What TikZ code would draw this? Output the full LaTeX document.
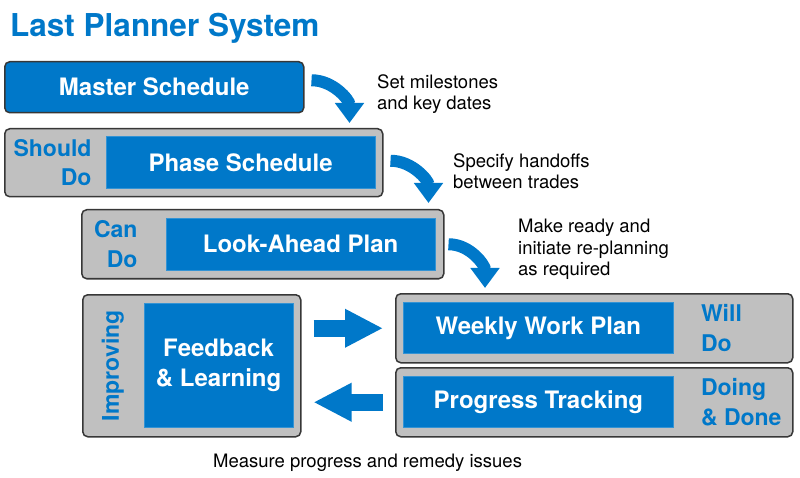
\documentclass[tikz,border=0pt]{standalone}
\usepackage{fontspec}
\setmainfont{TeX Gyre Heros}
\usetikzlibrary{positioning,arrows.meta,calc}
\definecolor{lpblue}{RGB}{0,120,201}
\definecolor{lpgray}{RGB}{192,192,192}
\definecolor{lpedge}{RGB}{55,55,55}
\tikzset{
  frame/.style={draw=lpedge, line width=1.5pt, fill=lpgray, rounded corners=5pt, inner sep=0pt, anchor=north west},
  stage/.style={fill=lpblue, draw=lpblue!80!white, line width=0.8pt, text=white, align=center, inner sep=0pt, font=\fontsize{24}{30}\selectfont\bfseries},
  tag/.style={text=lpblue, inner sep=0pt, font=\fontsize{23}{29.5}\selectfont\bfseries},
  note/.style={anchor=north west, inner sep=0pt, align=left, font=\fontsize{18.5}{21.5}\selectfont},
  bendarr/.style={draw=lpblue, line width=12pt, -{Triangle[length=20pt, width=28pt]}},
  blockarr/.style={draw=lpblue, line width=17pt, -{Triangle[length=38pt, width=36pt]}},
}
\begin{document}
\begin{tikzpicture}[x=1pt, y=-1pt]
  \useasboundingbox (0,0) rectangle (800,478);
  \node[anchor=base west, inner sep=0pt, text=lpblue, font=\fontsize{31.5}{37}\selectfont\bfseries] (title) at (10,37) {Last Planner System};

  \node[frame, fill=lpblue, minimum width=299pt, minimum height=51pt, text=white, font=\fontsize{24}{30}\selectfont\bfseries] (master) at (4,61) {Master Schedule};

  % should do
  \node[frame, minimum width=378pt, minimum height=68pt] (phaseframe) at (4,128) {};
  \node[stage, minimum width=269pt, minimum height=52pt, anchor=east] (phase) at ([xshift=-8pt]phaseframe.east) {Phase Schedule};
  \node[tag, align=right, anchor=east] (should) at ([xshift=-14pt]phase.west) {Should\\Do};

  % can do
  \node[frame, minimum width=362pt, minimum height=69pt] (lookframe) at (81,209) {};
  \node[stage, minimum width=269pt, minimum height=52pt, anchor=east] (look) at ([xshift=-9pt]lookframe.east) {Look-Ahead Plan};
  \node[tag, align=right, anchor=east] (can) at ([xshift=-28pt]look.west) {Can\\Do};

  % improving
  \node[frame, minimum width=218pt, minimum height=142pt] (learnframe) at (82,294) {};
  \node[stage, minimum width=149pt, minimum height=124pt, anchor=east] (learn) at ([xshift=-8pt]learnframe.east) {Feedback\\\& Learning};
  \node[tag, rotate=90] (improving) at ($(learnframe.west)!0.5!(learn.west)$) {Improving};

  % will do
  \node[frame, minimum width=397pt, minimum height=69pt] (weekframe) at (395,293) {};
  \node[stage, minimum width=270pt, minimum height=51pt, anchor=west] (week) at ([xshift=8pt]weekframe.west) {Weekly Work Plan};
  \node[tag, align=left, anchor=west] (will) at ([xshift=27pt]week.east) {Will\\Do};

  % doing and done
  \node[frame, minimum width=397pt, minimum height=69pt] (trackframe) at (395,367) {};
  \node[stage, minimum width=270pt, minimum height=51pt, anchor=west] (track) at ([xshift=8pt]trackframe.west) {Progress Tracking};
  \node[tag, align=left, anchor=west] (done) at ([xshift=27pt]track.east) {Doing\\\& Done};

  \node[note] (milestones) at (377,74) {Set milestones\\and key dates};
  \node[note] (handoffs) at (453,153) {Specify handoffs\\between trades};
  \node[note] (ready) at (518,219) {Make ready and\\initiate re-planning\\as required};
  \node[note, anchor=base west] (measure) at (213,467) {Measure progress and remedy issues};

  \coordinate (a1) at ([xshift=7pt, yshift=7pt]master.east);
  \coordinate (b1) at ([xshift=-34pt, yshift=5pt]phaseframe.north east);
  \coordinate (a2) at ([xshift=7pt, yshift=2pt]phaseframe.east);
  \coordinate (b2) at ([xshift=-16pt, yshift=6pt]lookframe.north east);
  \coordinate (a3) at ([xshift=4pt]lookframe.east);
  \coordinate (b3) at ([xshift=90pt, yshift=5pt]weekframe.north west);
  \draw[bendarr] (a1) to[out=0, in=90] (b1);
  \draw[bendarr] (a2) to[out=0, in=90] (b2);
  \draw[bendarr] (a3) to[out=0, in=90] (b3);

  \draw[blockarr] ([xshift=12pt]weekframe.west -| learnframe.east) -- ([xshift=-12pt]weekframe.west);
  \draw[blockarr] ([xshift=-12pt]trackframe.west) -- ([xshift=12pt]trackframe.west -| learnframe.east);
\end{tikzpicture}
\end{document}
